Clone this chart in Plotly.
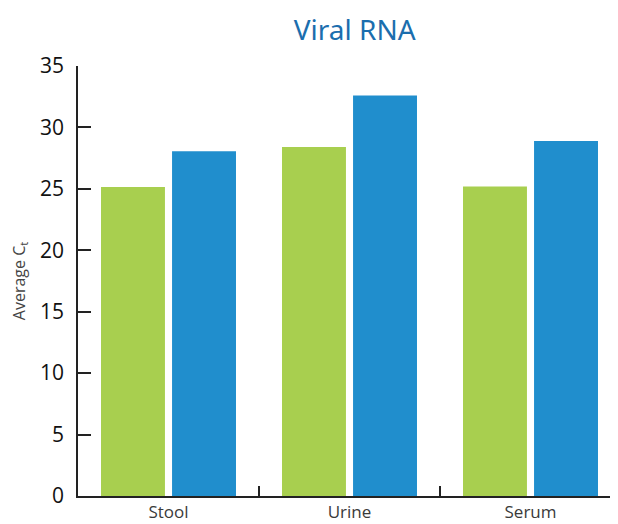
import plotly.graph_objects as go

categories = ["Stool", "Urine", "Serum"]
series_a = [25.15, 28.4, 25.2]
series_b = [28.07, 32.6, 28.9]
y_ticks = [0, 5, 10, 15, 20, 25, 30, 35]

fig = go.Figure()
fig.add_trace(go.Bar(x=categories, y=series_a, marker=dict(color="#a8cf4f", line=dict(width=0)), showlegend=False))
fig.add_trace(go.Bar(x=categories, y=series_b, marker=dict(color="#208ecd", line=dict(width=0)), showlegend=False))

fig.update_layout(
    width=618, height=524,
    margin=dict(l=70, r=5, t=58, b=36, autoexpand=False),
    paper_bgcolor="white", plot_bgcolor="white",
    barmode="group", bargap=0.215, bargroupgap=0.1,
    title=dict(text="Viral RNA", x=0.561, xanchor="center", y=0.958, yanchor="middle",
               font=dict(family="Noto Sans", size=28, color="#1b6eae")),
    font=dict(family="Open Sans", color="#222"),
    xaxis=dict(
        range=[-0.5, 2.5], showline=True, linecolor="#222", linewidth=1.5, automargin=False,
        ticks="inside", tickson="boundaries", ticklen=10, tickcolor="#222", tickwidth=1.5,
        ticklabelstandoff=0,
        tickfont=dict(size=17, color="#3a3a3a"), showgrid=False, zeroline=False,
    ),
    yaxis=dict(
        range=[0, 35], tickvals=y_ticks, showline=True, linecolor="#222", linewidth=1.5,
        automargin=False, ticklabelstandoff=8,
        ticks="inside", ticklen=13, tickcolor="#222", tickwidth=1.5,
        tickfont=dict(size=21, color="#111"), showgrid=False, zeroline=False,
        title=dict(text="Average C<sub>t</sub>", font=dict(size=16, color="#444"), standoff=20),
    ),
)

fig.write_html("out.html")
